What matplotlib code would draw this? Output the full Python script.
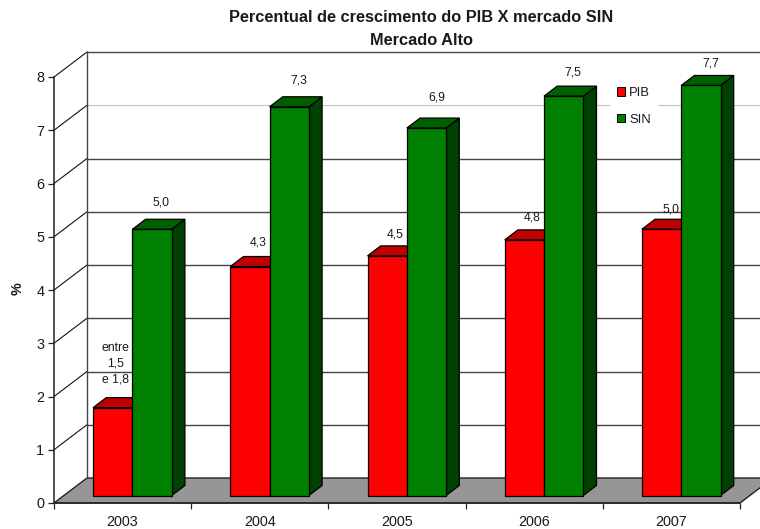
import matplotlib
matplotlib.use("Agg")
import matplotlib.pyplot as plt
from matplotlib.patches import Polygon, Patch

plt.rcParams['font.family'] = ['Liberation Sans', 'DejaVu Sans']

years = ['2003', '2004', '2005', '2006', '2007']
pib = [1.65, 4.3, 4.5, 4.8, 5.0]
sin = [5.0, 7.3, 6.9, 7.5, 7.7]
pib_labels = ['entre\n1,5\ne 1,8', '4,3', '4,5', '4,8', '5,0']
sin_labels = ['5,0', '7,3', '6,9', '7,5', '7,7']
yticks = list(range(9))

# styling: label offsets in pixels from bar top-front centre
pib_off = [(2.5, 44), (8, 24), (8, 21), (8, 22), (9, 20)]
sin_off = [(9, 27), (10, 26), (10, 31), (9, 24), (10, 22)]

W, H = 760, 529
fig = plt.figure(figsize=(W / 100, H / 100), dpi=100, facecolor='white')
ax = fig.add_axes([54 / W, (H - 503) / H, 686 / W, 426 / H])
ax.set_xlim(0, 5)
ax.set_ylim(0, 8)
ax.patch.set_alpha(0)

PX = 686 / 5          # pixels per category
PY = 426 / 8          # pixels per unit value
DX = 33 / PX          # full depth, x shift in category units
DY = 25 / PY          # full depth, y shift in value units
GAP = 29.2 / PX
BW = 39.3 / PX
INK = '#1a1a1a'
WALL = '#444444'


def proj(x, y, d):
    return (x + d * DX, y + d * DY)


# floor
ax.add_patch(Polygon([proj(0, 0, 0), proj(5, 0, 0), proj(5, 0, 1), proj(0, 0, 1)],
                     closed=True, fc='#969696', ec='#222222', lw=1.0,
                     clip_on=False, zorder=1))

# grid lines on the side and back wall
xend = 5 + DX
for v in yticks[1:]:
    light = v == 7
    ax.plot([0, DX], [v, v + DY], color='#111111', lw=0.8, clip_on=False, zorder=2)
    ax.plot([DX, xend], [v + DY, v + DY],
            color='#c4c4c4' if light else WALL,
            lw=0.8 if light else 1.0, clip_on=False, zorder=2)
ax.plot([DX, DX], [DY, 8 + DY], color=WALL, lw=1.0, clip_on=False, zorder=2)


def bar3d(x0, w, h, front, top, side, z):
    d0, d1 = 0.3, 0.7
    base = 0
    kw = dict(closed=True, ec='black', lw=0.9, clip_on=False, zorder=z)
    ax.add_patch(Polygon([proj(x0 + w, base, d0), proj(x0 + w, base, d1),
                          proj(x0 + w, h, d1), proj(x0 + w, h, d0)], fc=side, **kw))
    ax.add_patch(Polygon([proj(x0, h, d0), proj(x0 + w, h, d0),
                          proj(x0 + w, h, d1), proj(x0, h, d1)], fc=top, **kw))
    ax.add_patch(Polygon([proj(x0, base, d0), proj(x0 + w, base, d0),
                          proj(x0 + w, h, d0), proj(x0, h, d0)], fc=front, **kw))


for i in range(len(years)):
    xr = i + GAP
    xg = xr + BW
    z = 3 + i
    bar3d(xr, BW, pib[i], '#ff0000', '#c00000', '#800000', z)
    bar3d(xg, BW, sin[i], '#008000', '#006000', '#004000', z + 0.5)
    for xx, val, lab, off in ((xr, pib[i], pib_labels[i], pib_off[i]),
                              (xg, sin[i], sin_labels[i], sin_off[i])):
        cx, cy = proj(xx + BW / 2, val, 0.3)
        ax.annotate(lab, (cx, cy), xytext=off, textcoords='offset pixels',
                    ha='center', va='center', fontsize=8.8, color=INK,
                    linespacing=1.42, zorder=20, annotation_clip=False)

# axes
for s in ('top', 'right'):
    ax.spines[s].set_visible(False)
for s in ('left', 'bottom'):
    ax.spines[s].set_linewidth(1.1)
    ax.spines[s].set_color('#222222')
    ax.spines[s].set_zorder(2.5)
ax.set_yticks(yticks)
ax.set_xticks(range(len(years) + 1))
ax.set_xticklabels([])
ax.set_xticks([i + 0.5 for i in range(len(years))], minor=True)
ax.set_xticklabels(years, minor=True)
ax.tick_params(axis='x', which='minor', length=0, pad=8.5, labelsize=10.4, labelcolor=INK)
ax.tick_params(axis='x', which='major', length=4.5, width=0.9, color='#222222')
ax.tick_params(axis='y', length=4.5, width=0.9, pad=2.5, labelsize=10.4,
               color='#222222', labelcolor=INK)

fig.text(18 / W, 1 - 289 / H, '%', rotation=90, fontsize=10.4, fontweight='bold',
         ha='center', va='center', color=INK)
fig.text(421 / W, 1 - 18 / H, 'Percentual de crescimento do PIB X mercado SIN',
         fontsize=11.8, fontweight='bold', ha='center', va='center', color=INK)
fig.text(421 / W, 1 - 40 / H, 'Mercado Alto',
         fontsize=11.8, fontweight='bold', ha='center', va='center', color=INK)

# legend
handles = [Patch(fc='#ff0000', ec='black', lw=0.7, label='PIB'),
           Patch(fc='#008000', ec='black', lw=0.7, label='SIN')]
leg = fig.legend(handles=handles, loc='upper left',
                 bbox_to_anchor=(610 / W, 1 - 80 / H), frameon=True, fancybox=False,
                 facecolor='white', edgecolor='none', framealpha=1, fontsize=9.4,
                 handlelength=0.62, handleheight=0.62, handletextpad=0.28,
                 labelspacing=1.1, borderpad=0.55, borderaxespad=0)
leg.set_zorder(10)
for t in leg.get_texts():
    t.set_color(INK)

fig.savefig('out.png', dpi=100)
